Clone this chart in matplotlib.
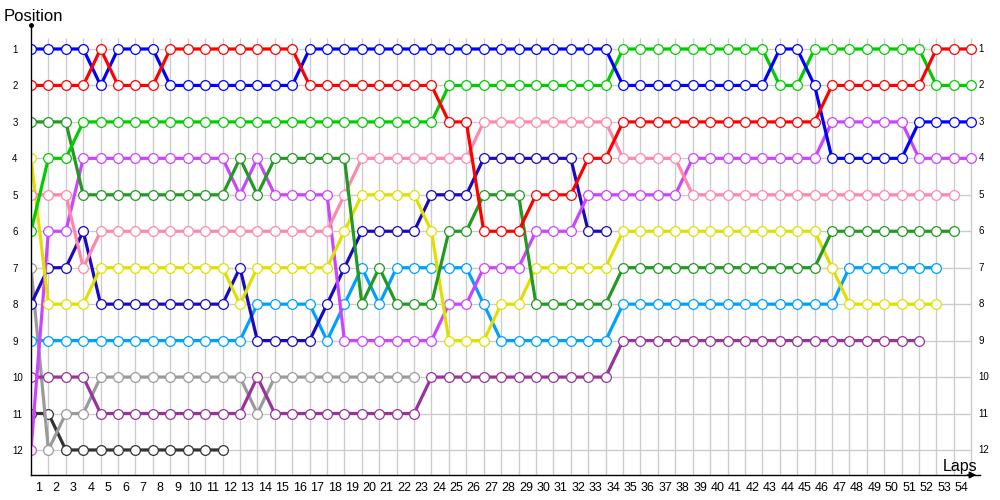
import numpy as np
import matplotlib
matplotlib.use('Agg')

import matplotlib.pyplot as plt

# ============================================================
# DATA: position of each car after every lap (lap 0 = grid)
# ============================================================

pos_blue = [1, 1, 1, 1, 2, 1, 1, 1, 2, 2, 2, 2, 2, 2, 2, 2,
            1, 1, 1, 1, 1, 1, 1, 1, 1, 1, 1, 1, 1, 1, 1, 1, 1, 1,
            2, 2, 2, 2, 2, 2, 2, 2, 2, 1, 1, 2, 4, 4, 4, 4, 4, 3, 3, 3, 3]

pos_red = [2, 2, 2, 2, 1, 2, 2, 2, 1, 1, 1, 1, 1, 1, 1, 1,
           2, 2, 2, 2, 2, 2, 2, 2, 3, 3, 6, 6, 6, 5, 5, 5, 4, 4,
           3, 3, 3, 3, 3, 3, 3, 3, 3, 3, 3, 3, 2, 2, 2, 2, 2, 2, 1, 1, 1]

pos_lime = [6, 4, 4, 3, 3, 3, 3, 3, 3, 3, 3, 3, 3, 3, 3, 3,
            3, 3, 3, 3, 3, 3, 3, 3, 2, 2, 2, 2, 2, 2, 2, 2, 2, 2,
            1, 1, 1, 1, 1, 1, 1, 1, 1, 2, 2, 1, 1, 1, 1, 1, 1, 1, 2, 2, 2]

pos_forest = [3, 3, 3, 5, 5, 5, 5, 5, 5, 5, 5, 5, 4, 5, 4, 4,
              4, 4, 4, 8, 7, 8, 8, 8, 6, 6, 5, 5, 5, 8, 8, 8, 8, 8,
              7, 7, 7, 7, 7, 7, 7, 7, 7, 7, 7, 7, 6, 6, 6, 6, 6, 6, 6, 6]

pos_pink = [5, 5, 5, 7, 6, 6, 6, 6, 6, 6, 6, 6, 6, 6, 6, 6,
            6, 6, 5, 4, 4, 4, 4, 4, 4, 4, 3, 3, 3, 3, 3, 3, 3, 3,
            4, 4, 4, 4, 5, 5, 5, 5, 5, 5, 5, 5, 5, 5, 5, 5, 5, 5, 5, 5]

pos_yellow = [4, 8, 8, 8, 7, 7, 7, 7, 7, 7, 7, 7, 8, 7, 7, 7,
              7, 7, 6, 5, 5, 5, 5, 6, 9, 9, 9, 8, 8, 7, 7, 7, 7, 7,
              6, 6, 6, 6, 6, 6, 6, 6, 6, 6, 6, 6, 7, 8, 8, 8, 8, 8, 8]

pos_violet = [12, 6, 6, 4, 4, 4, 4, 4, 4, 4, 4, 4, 5, 4, 5, 5,
              5, 5, 9, 9, 9, 9, 9, 9, 8, 8, 7, 7, 7, 6, 6, 6, 5, 5,
              5, 5, 5, 5, 4, 4, 4, 4, 4, 4, 4, 4, 3, 3, 3, 3, 3, 4, 4, 4, 4]

pos_navy = [8, 7, 7, 6, 8, 8, 8, 8, 8, 8, 8, 8, 7, 9, 9, 9,
            9, 8, 7, 6, 6, 6, 6, 5, 5, 5, 4, 4, 4, 4, 4, 4, 6, 6]

pos_sky = [9, 9, 9, 9, 9, 9, 9, 9, 9, 9, 9, 9, 9, 8, 8, 8,
           8, 9, 8, 7, 8, 7, 7, 7, 7, 7, 8, 9, 9, 9, 9, 9, 9, 9,
           8, 8, 8, 8, 8, 8, 8, 8, 8, 8, 8, 8, 8, 7, 7, 7, 7, 7, 7]

pos_purple = [10, 10, 10, 10, 11, 11, 11, 11, 11, 11, 11, 11, 11, 10, 11, 11,
              11, 11, 11, 11, 11, 11, 11, 10, 10, 10, 10, 10, 10, 10, 10, 10, 10, 10,
              9, 9, 9, 9, 9, 9, 9, 9, 9, 9, 9, 9, 9, 9, 9, 9, 9, 9]

pos_silver = [7, 12, 11, 11, 10, 10, 10, 10, 10, 10, 10, 10, 10, 11, 10, 10,
              10, 10, 10, 10, 10, 10, 10]

pos_charcoal = [11, 11, 12, 12, 12, 12, 12, 12, 12, 12, 12, 12]

n_laps = 54
n_positions = 12

# ============================================================
# SERIES + COLORS
# ============================================================

series = [
    (pos_charcoal, '#333333'),
    (pos_silver, '#9a9a9a'),
    (pos_purple, '#993399'),
    (pos_sky, '#00a0ff'),
    (pos_navy, '#1a0abf'),
    (pos_violet, '#cc44ff'),
    (pos_yellow, '#e0e000'),
    (pos_pink, '#ff88aa'),
    (pos_forest, '#229922'),
    (pos_lime, '#00cc00'),
    (pos_blue, '#0000ff'),
    (pos_red, '#ff0000'),
]

# ============================================================
# PLOT
# ============================================================

plt.rcParams['font.family'] = ['Liberation Sans', 'DejaVu Sans']

fig = plt.figure(figsize=(10, 5), dpi=100, facecolor='white')
ax = fig.add_axes([0.031, 0.05, 0.949, 0.90])

y_top = 0.342
y_bottom = 12.687

ax.set_xlim(0, 54.5)
ax.set_ylim(y_bottom, y_top)

laps = np.arange(1, n_laps + 1)
positions = np.arange(1, n_positions + 1)

# grid
ax.vlines(laps, 0.70, y_bottom, color='#cccccc', linewidth=1, zorder=0)
ax.hlines(positions, 0, n_laps, color='#cccccc', linewidth=1, zorder=0)

for vals, color in series:
    x = np.arange(len(vals))
    ax.plot(
        x,
        vals,
        color=color,
        linewidth=2.3,
        marker='o',
        markersize=7,
        markerfacecolor='white',
        markeredgecolor=color,
        markeredgewidth=0.9,
        solid_capstyle='round',
        zorder=2
    )

# ----------------------------------------------------
# AXES STYLING
# ----------------------------------------------------

for side in ['top', 'right']:
    ax.spines[side].set_visible(False)

ax.spines['left'].set_linewidth(1)
ax.spines['bottom'].set_linewidth(1)

ax.set_xticks(laps - 0.57)
ax.set_xticklabels([str(v) for v in laps], fontsize=9)

ax.set_yticks(positions)
ax.set_yticklabels([str(v) for v in positions], fontsize=7, ha='left')

ax.tick_params(axis='x', length=0, pad=5)
ax.tick_params(axis='y', length=0, pad=13.5)

# right hand position labels
for p in positions:
    ax.text(54.42, p, str(p), fontsize=7, ha='left', va='center', clip_on=False)

# dot at top of the y axis, arrow at end of x axis
ax.plot([0], [y_top], marker='o', markersize=2.5, color='black', clip_on=False, zorder=5)

ax.annotate(
    '',
    xy=(54.45, y_bottom),
    xytext=(53.6, y_bottom),
    arrowprops=dict(arrowstyle='-|>', color='black', linewidth=1,
                    mutation_scale=10),
    annotation_clip=False
)

fig.text(0.004, 0.958, 'Position', fontsize=12, ha='left', va='baseline')
fig.text(0.943, 0.058, 'Laps', fontsize=11.5, ha='left', va='baseline')

plt.savefig('out.png', dpi=100, facecolor='white')
plt.close()
